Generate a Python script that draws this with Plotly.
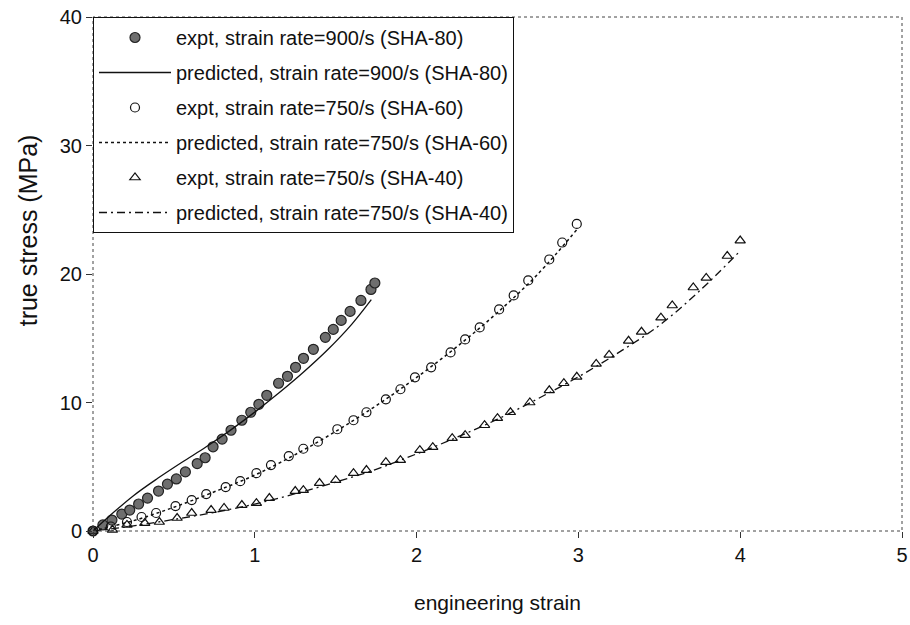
import plotly.graph_objects as go

# ---------------- data ----------------
sha80_x = [0.0, 0.061, 0.117, 0.178, 0.227, 0.282, 0.337, 0.405, 0.460, 0.515, 0.571, 0.644,
           0.693, 0.742, 0.798, 0.853, 0.920, 0.975, 1.025, 1.074, 1.147, 1.202, 1.252, 1.301,
           1.362, 1.436, 1.485, 1.534, 1.589, 1.656, 1.718, 1.742]
sha80_y = [0.0, 0.47, 0.85, 1.32, 1.63, 2.10, 2.56, 3.11, 3.65, 4.05, 4.60, 5.25,
           5.70, 6.55, 7.15, 7.84, 8.62, 9.24, 9.86, 10.56, 11.50, 12.04, 12.74, 13.44,
           14.14, 15.07, 15.69, 16.39, 17.09, 17.94, 18.80, 19.30]

pred80_x = [0.0, 0.1, 0.25, 0.4, 0.55, 0.7, 0.85, 1.0, 1.15, 1.3, 1.45, 1.6, 1.72]
pred80_y = [0.0, 1.15, 2.75, 4.1, 5.35, 6.55, 7.85, 9.25, 10.75, 12.35, 14.1, 16.1, 18.0]

sha60_x = [0.0, 0.11, 0.21, 0.30, 0.39, 0.51, 0.61, 0.70, 0.82, 0.91, 1.01, 1.10, 1.21, 1.30,
           1.39, 1.51, 1.61, 1.69, 1.81, 1.90, 1.99, 2.09, 2.21, 2.30, 2.39, 2.51, 2.60, 2.69,
           2.82, 2.90, 2.99]
sha60_y = [0.0, 0.35, 0.70, 1.09, 1.40, 1.94, 2.41, 2.87, 3.42, 3.88, 4.50, 5.13, 5.83, 6.40,
           6.95, 7.92, 8.62, 9.24, 10.25, 11.03, 11.96, 12.74, 13.90, 14.91, 15.84, 17.24, 18.33,
           19.50, 21.13, 22.45, 23.90]

pred60_x = [0.0, 0.25, 0.5, 0.75, 1.0, 1.25, 1.5, 1.75, 2.0, 2.25, 2.5, 2.75, 3.0]
pred60_y = [0.0, 0.8, 1.85, 3.05, 4.35, 5.95, 7.75, 9.75, 11.95, 14.35, 17.0, 20.0, 23.6]

sha40_x = [0.0, 0.12, 0.21, 0.32, 0.41, 0.52, 0.61, 0.73, 0.81, 0.92, 1.01, 1.09, 1.25, 1.30,
           1.40, 1.50, 1.61, 1.69, 1.81, 1.90, 2.02, 2.10, 2.22, 2.30, 2.42, 2.50, 2.58, 2.70,
           2.82, 2.91, 2.99, 3.11, 3.19, 3.31, 3.39, 3.51, 3.58, 3.71, 3.79, 3.92, 4.00]
sha40_y = [0.0, 0.08, 0.47, 0.62, 0.70, 1.01, 1.40, 1.63, 1.79, 2.02, 2.17, 2.56, 3.11, 3.18,
           3.73, 3.96, 4.50, 4.74, 5.36, 5.51, 6.29, 6.52, 7.22, 7.46, 8.23, 8.78, 9.24, 10.0,
           10.95, 11.5, 12.0, 13.0, 13.7, 14.8, 15.5, 16.6, 17.55, 18.95, 19.7, 21.4, 22.6]

pred40_x = [0.0, 0.25, 0.5, 0.75, 1.0, 1.25, 1.5, 1.75, 2.0, 2.25, 2.5, 2.75, 3.0, 3.25, 3.5, 3.75, 4.0]
pred40_y = [0.0, 0.4, 0.9, 1.45, 2.1, 2.9, 3.8, 4.8, 6.0, 7.3, 8.7, 10.3, 12.0, 13.9, 16.0, 18.7, 21.8]

names = [
    "expt, strain rate=900/s (SHA-80)",
    "predicted, strain rate=900/s (SHA-80)",
    "expt, strain rate=750/s (SHA-60)",
    "predicted, strain rate=750/s (SHA-60)",
    "expt, strain rate=750/s (SHA-40)",
    "predicted, strain rate=750/s (SHA-40)",
]
x_title = "engineering strain"
y_title = "true stress (MPa)"

FONT = "Liberation Sans, Arial, sans-serif"

fig = go.Figure()

fig.add_trace(go.Scatter(x=sha80_x, y=sha80_y, mode="markers", name=names[0], legendgroup="a",
                         cliponaxis=False,
                         marker=dict(symbol="circle", size=10, color="#6e6e6e",
                                     line=dict(color="#222222", width=1.2))))
fig.add_trace(go.Scatter(x=pred80_x, y=pred80_y, mode="lines", name=names[1], legendgroup="b",
                         line=dict(color="#111111", width=1.3, shape="spline")))
fig.add_trace(go.Scatter(x=sha60_x, y=sha60_y, mode="markers", name=names[2], legendgroup="c",
                         cliponaxis=False,
                         marker=dict(symbol="circle-open", size=9, color="#111111",
                                     line=dict(width=1.2))))
fig.add_trace(go.Scatter(x=pred60_x, y=pred60_y, mode="lines", name=names[3], legendgroup="d",
                         line=dict(color="#111111", width=1.5, dash="dot", shape="spline")))
fig.add_trace(go.Scatter(x=sha40_x, y=sha40_y, mode="markers", name=names[4], legendgroup="e",
                         cliponaxis=False,
                         marker=dict(symbol="triangle-up-open", size=9, color="#111111",
                                     line=dict(width=1.2))))
fig.add_trace(go.Scatter(x=pred40_x, y=pred40_y, mode="lines", name=names[5], legendgroup="f",
                         line=dict(color="#111111", width=1.3, dash="8px,4px,2px,4px",
                                   shape="spline")))

fig.update_layout(
    width=910, height=625,
    margin=dict(l=93, r=8, t=17, b=94),
    paper_bgcolor="white", plot_bgcolor="white",
    font=dict(family=FONT, size=20, color="#111111"),
    showlegend=True,
    legend=dict(x=0, y=1, xanchor="left", yanchor="top",
                bgcolor="white", bordercolor="#111111", borderwidth=1,
                font=dict(family=FONT, size=20, color="#111111"),
                itemwidth=72, tracegroupgap=6, traceorder="grouped"),
    shapes=[dict(type="rect", xref="paper", yref="paper", x0=0, y0=0, x1=1, y1=1,
                 line=dict(color="#444444", width=1, dash="dot"), layer="above")],
    annotations=[dict(text=y_title, textangle=-90, xref="paper", yref="paper",
                      x=0, y=0.585, xanchor="center", yanchor="middle", xshift=-65,
                      showarrow=False, font=dict(family=FONT, size=25, color="#111111"))],
)

fig.update_xaxes(range=[0, 5], tickvals=[0, 1, 2, 3, 4, 5], ticks="outside", ticklen=6,
                 tickcolor="#333333", showgrid=False, zeroline=False, showline=False,
                 ticklabeloverflow="allow", automargin=False,
                 title=dict(text=x_title, standoff=30, font=dict(size=21)),
                 tickfont=dict(size=20))
fig.update_yaxes(range=[0, 40], tickvals=[0, 10, 20, 30, 40], ticks="outside", ticklen=6,
                 tickcolor="#333333", showgrid=False, zeroline=False, showline=False,
                 ticklabeloverflow="allow", automargin=False,
                 tickfont=dict(size=20))

fig.write_html("out.html")
